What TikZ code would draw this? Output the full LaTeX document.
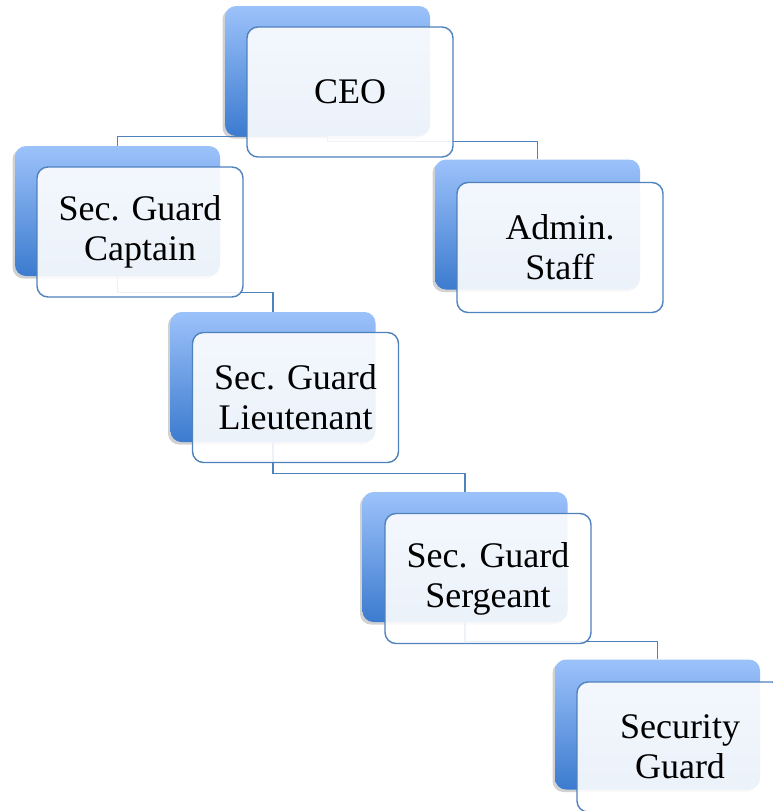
\documentclass[tikz,border=0pt]{standalone}
\usepackage{fontspec}
\setmainfont{Liberation Serif}
\usetikzlibrary{shadows}
\definecolor{backtop}{RGB}{156,194,250}
\definecolor{backbot}{RGB}{60,123,207}
\definecolor{edgeblue}{RGB}{79,129,189}
\begin{document}
\begin{tikzpicture}[x=1pt,y=-1pt,
  backbox/.style={rounded corners=11pt, top color=backtop, bottom color=backbot,
    minimum width=205pt, minimum height=130pt, inner sep=0pt,
    drop shadow={shadow xshift=-2.5pt, shadow yshift=-2.5pt, opacity=0.3, fill=black!60}},
  frontbox/.style={rounded corners=11pt, draw=edgeblue, line width=1.4pt,
    fill=white, fill opacity=0.9, text opacity=1,
    minimum width=206pt, minimum height=130pt, inner sep=0pt, align=center,
    font=\fontsize{36}{40}\selectfont},
  link/.style={draw=edgeblue, line width=1.3pt}]
\useasboundingbox (0,0) rectangle (773,811);
\clip (0,0) rectangle (773,811);
% back boxes
\node[backbox] (ceoB) at (327.5,71) {};
\node[backbox] (capB) at (117.5,211) {};
\node[backbox] (admB) at (537.5,224.5) {};
\node[backbox] (ltB)  at (273,377) {};
\node[backbox] (sgB)  at (465,557) {};
\node[backbox] (secB) at (657.5,724.5) {};
% connectors (behind the front boxes)
\path[link] (ceoB.south) -| (capB.north);
\path[link] (ceoB.south) -- ++(0,5) -| (admB.north);
\path[link] (capB.south) -- ++(0,16) -| (ltB.north);
\path[link] (ltB.south) -- ++(0,31) -| (sgB.north);
\path[link] (sgB.south) -- ++(0,19) -| (secB.north);
% front boxes
\node[frontbox] (ceo) at (350,92) {CEO};
\node[frontbox] (cap) at (140,232) {Sec. Guard\\Captain};
\node[frontbox] (adm) at (560,247.5) {Admin.\\Staff};
\node[frontbox] (lt)  at (295.5,397.5) {Sec. Guard\\Lieutenant};
\node[frontbox] (sg)  at (488,578.5) {Sec. Guard\\Sergeant};
\node[frontbox] (sec) at (680,747) {Security\\Guard};
\end{tikzpicture}
\end{document}
